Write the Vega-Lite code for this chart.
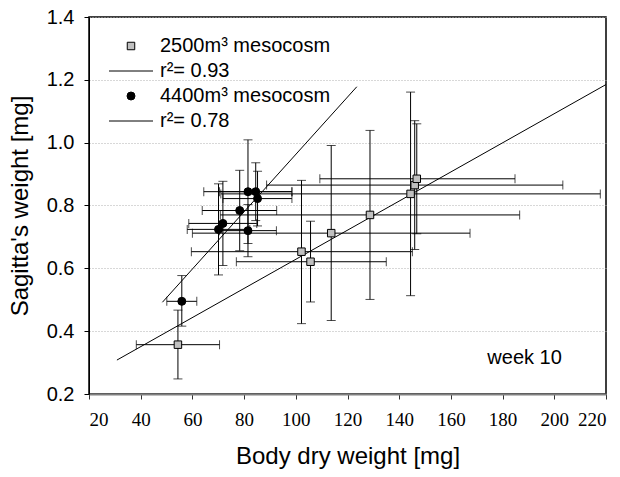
{
  "$schema": "https://vega.github.io/schema/vega-lite/v6.json",
  "width": 517,
  "height": 377,
  "autosize": {"type": "none"},
  "padding": {"left": 89, "top": 17, "right": 14, "bottom": 83},
  "background": "white",
  "config": {
    "view": {"stroke": "#000", "strokeWidth": 1.5},
    "font": "Liberation Sans",
    "axis": {"titleFont": "Liberation Sans", "titleFontWeight": "normal", "titleFontSize": 24, "titleColor": "#000", "labelColor": "#000", "tickColor": "#000", "tickSize": 5},
    "axisX": {"grid": false, "domainColor": "#808080", "domainWidth": 2, "labelFont": "Liberation Sans Narrow", "labelFontSize": 19, "labelPadding": 11, "titlePadding": 15, "tickColor": "#333"},
    "axisY": {"grid": true, "gridColor": "#b0b0b0", "gridDash": [1, 2], "gridWidth": 1, "domainColor": "#000", "domainWidth": 1, "labelFontSize": 20, "labelPadding": 10, "titlePadding": 14}
  },
  "datasets": {
    "pts": [
      {"series": "2500m³ mesocosm", "x": 54.4, "y": 0.357, "xlo": 38.3, "xhi": 70.5, "ylo": 0.248, "yhi": 0.467},
      {"series": "2500m³ mesocosm", "x": 102.2, "y": 0.653, "xlo": 59.6, "xhi": 145.1, "ylo": 0.424, "yhi": 0.88},
      {"series": "2500m³ mesocosm", "x": 105.7, "y": 0.621, "xlo": 77.0, "xhi": 135.0, "ylo": 0.493, "yhi": 0.75},
      {"series": "2500m³ mesocosm", "x": 113.7, "y": 0.712, "xlo": 60.0, "xhi": 167.4, "ylo": 0.434, "yhi": 0.991},
      {"series": "2500m³ mesocosm", "x": 128.7, "y": 0.77, "xlo": 70.8, "xhi": 186.6, "ylo": 0.501, "yhi": 1.039},
      {"series": "2500m³ mesocosm", "x": 144.4, "y": 0.837, "xlo": 71.0, "xhi": 217.8, "ylo": 0.513, "yhi": 1.161},
      {"series": "2500m³ mesocosm", "x": 146.0, "y": 0.865, "xlo": 88.7, "xhi": 203.3, "ylo": 0.66, "yhi": 1.07},
      {"series": "2500m³ mesocosm", "x": 146.8, "y": 0.885, "xlo": 109.3, "xhi": 184.8, "ylo": 0.71, "yhi": 1.06},
      {"series": "4400m³ mesocosm", "x": 81.5, "y": 0.844, "xlo": 64.4, "xhi": 98.5, "ylo": 0.679, "yhi": 1.009},
      {"series": "4400m³ mesocosm", "x": 84.5, "y": 0.844, "xlo": 70.5, "xhi": 98.5, "ylo": 0.752, "yhi": 0.936},
      {"series": "4400m³ mesocosm", "x": 85.2, "y": 0.822, "xlo": 71.8, "xhi": 98.5, "ylo": 0.735, "yhi": 0.909},
      {"series": "4400m³ mesocosm", "x": 78.3, "y": 0.784, "xlo": 63.8, "xhi": 92.6, "ylo": 0.656, "yhi": 0.912},
      {"series": "4400m³ mesocosm", "x": 71.8, "y": 0.743, "xlo": 58.6, "xhi": 84.9, "ylo": 0.609, "yhi": 0.877},
      {"series": "4400m³ mesocosm", "x": 70.1, "y": 0.724, "xlo": 58.0, "xhi": 82.2, "ylo": 0.579, "yhi": 0.869},
      {"series": "4400m³ mesocosm", "x": 81.5, "y": 0.72, "xlo": 70.5, "xhi": 92.5, "ylo": 0.637, "yhi": 0.803},
      {"series": "4400m³ mesocosm", "x": 55.9, "y": 0.495, "xlo": 50.1, "xhi": 61.7, "ylo": 0.416, "yhi": 0.577}
    ],
    "fits": [
      {"fit": "r²= 0.93", "x": 48.4, "y": 0.492},
      {"fit": "r²= 0.93", "x": 123.6, "y": 1.178},
      {"fit": "r²= 0.78", "x": 30.8, "y": 0.308},
      {"fit": "r²= 0.78", "x": 220, "y": 1.185}
    ]
  },
  "layer": [
    {
      "data": {"name": "pts"},
      "mark": {"type": "errorbar", "ticks": {"size": 9, "color": "#000"}, "color": "#000", "thickness": 1},
      "encoding": {
        "x": {"field": "xlo", "type": "quantitative", "scale": {"domain": [20, 220], "nice": false, "zero": false}, "axis": {"values": [20, 40, 60, 80, 100, 120, 140, 160, 180, 200, 220]}, "title": "Body dry weight [mg]"},
        "x2": {"field": "xhi"},
        "y": {"field": "y", "type": "quantitative", "scale": {"domain": [0.2, 1.4], "nice": false, "zero": false}, "axis": {"values": [0.2, 0.4, 0.6, 0.8, 1.0, 1.2, 1.4], "format": ".1f"}, "title": "Sagitta's weight [mg]"}
      }
    },
    {
      "data": {"name": "pts"},
      "mark": {"type": "errorbar", "ticks": {"size": 9, "color": "#000"}, "color": "#000", "thickness": 1},
      "encoding": {
        "x": {"field": "x", "type": "quantitative", "scale": {"domain": [20, 220], "nice": false, "zero": false}, "axis": {"values": [20, 40, 60, 80, 100, 120, 140, 160, 180, 200, 220]}, "title": "Body dry weight [mg]"},
        "y": {"field": "ylo", "type": "quantitative", "scale": {"domain": [0.2, 1.4], "nice": false, "zero": false}, "axis": {"values": [0.2, 0.4, 0.6, 0.8, 1.0, 1.2, 1.4], "format": ".1f"}, "title": "Sagitta's weight [mg]"},
        "y2": {"field": "yhi"}
      }
    },
    {
      "data": {"name": "fits"},
      "mark": {"type": "line", "color": "#000", "strokeWidth": 1},
      "encoding": {
        "x": {"field": "x", "type": "quantitative", "scale": {"domain": [20, 220], "nice": false, "zero": false}, "axis": {"values": [20, 40, 60, 80, 100, 120, 140, 160, 180, 200, 220]}, "title": "Body dry weight [mg]"},
        "y": {"field": "y", "type": "quantitative", "scale": {"domain": [0.2, 1.4], "nice": false, "zero": false}, "axis": {"values": [0.2, 0.4, 0.6, 0.8, 1.0, 1.2, 1.4], "format": ".1f"}, "title": "Sagitta's weight [mg]"},
        "detail": {"field": "fit", "type": "nominal"}
      }
    },
    {
      "data": {"name": "pts"},
      "mark": {"type": "point", "filled": true, "stroke": "#000", "strokeWidth": 1, "opacity": 1},
      "encoding": {
        "x": {"field": "x", "type": "quantitative", "scale": {"domain": [20, 220], "nice": false, "zero": false}, "axis": {"values": [20, 40, 60, 80, 100, 120, 140, 160, 180, 200, 220]}, "title": "Body dry weight [mg]"},
        "y": {"field": "y", "type": "quantitative", "scale": {"domain": [0.2, 1.4], "nice": false, "zero": false}, "axis": {"values": [0.2, 0.4, 0.6, 0.8, 1.0, 1.2, 1.4], "format": ".1f"}, "title": "Sagitta's weight [mg]"},
        "shape": {"field": "series", "type": "nominal", "scale": {"domain": ["2500m³ mesocosm", "r²= 0.93", "4400m³ mesocosm", "r²= 0.78"], "range": ["square", "M-5.5,0H5.5", "circle", "M-5.5,0H5.5"]},
          "legend": {"title": null, "orient": "none", "legendX": 32, "legendY": 19, "padding": 0, "labelFontSize": 20, "labelFont": "Liberation Sans", "labelColor": "#000", "labelLimit": 400, "labelOffset": 19, "rowPadding": 5, "symbolStrokeColor": "#000", "symbolStrokeWidth": 1, "symbolOpacity": 1,
            "encode": {"symbols": {"update": {"stroke": {"value": "#000"}, "strokeWidth": {"value": 1}, "opacity": {"value": 1}}}}}},
        "fill": {"field": "series", "type": "nominal", "scale": {"domain": ["2500m³ mesocosm", "r²= 0.93", "4400m³ mesocosm", "r²= 0.78"], "range": ["#c0c0c0", "#000000", "#000000", "#000000"]},
          "legend": {"title": null, "orient": "none", "legendX": 32, "legendY": 19, "padding": 0, "labelFontSize": 20, "labelFont": "Liberation Sans", "labelColor": "#000", "labelLimit": 400, "labelOffset": 19, "rowPadding": 5, "symbolStrokeColor": "#000", "symbolStrokeWidth": 1, "symbolOpacity": 1,
            "encode": {"symbols": {"update": {"stroke": {"value": "#000"}, "strokeWidth": {"value": 1}, "opacity": {"value": 1}}}}}},
        "size": {"field": "series", "type": "nominal", "scale": {"type": "ordinal", "domain": ["2500m³ mesocosm", "r²= 0.93", "4400m³ mesocosm", "r²= 0.78"], "range": [56, 64, 64, 64]},
          "legend": {"title": null, "orient": "none", "legendX": 32, "legendY": 19, "padding": 0, "labelFontSize": 20, "labelFont": "Liberation Sans", "labelColor": "#000", "labelLimit": 400, "labelOffset": 19, "rowPadding": 5, "symbolStrokeColor": "#000", "symbolStrokeWidth": 1, "symbolOpacity": 1,
            "encode": {"symbols": {"update": {"stroke": {"value": "#000"}, "strokeWidth": {"value": 1}, "opacity": {"value": 1}}}}}}
      }
    },
    {
      "data": {"values": [{"label": "week 10"}]},
      "mark": {"type": "text", "fontSize": 20, "font": "Liberation Sans", "color": "#000", "align": "center", "baseline": "middle"},
      "encoding": {
        "text": {"field": "label", "type": "nominal"},
        "x": {"datum": 188.5, "type": "quantitative", "scale": {"domain": [20, 220], "nice": false, "zero": false}},
        "y": {"datum": 0.316, "type": "quantitative", "scale": {"domain": [0.2, 1.4], "nice": false, "zero": false}}
      }
    }
  ]
}
